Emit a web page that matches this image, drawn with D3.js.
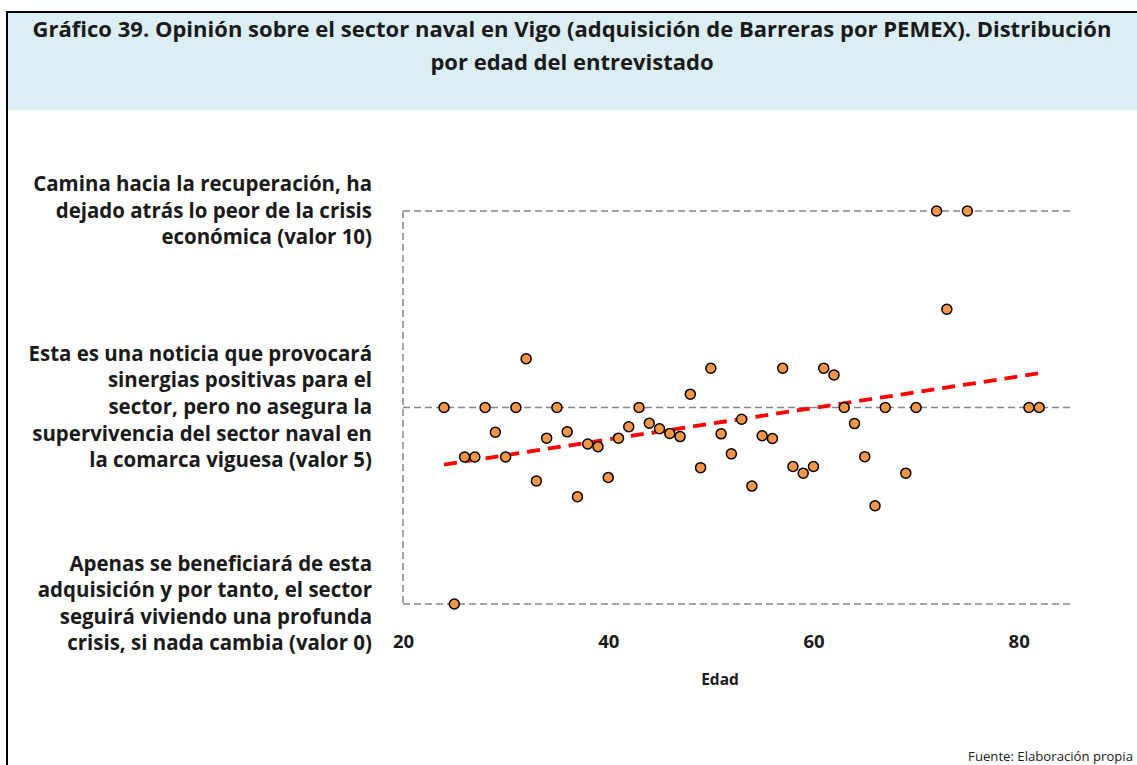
<!DOCTYPE html>
<html>
<head>
<meta charset="utf-8">
<script src="https://cdn.jsdelivr.net/npm/d3@7"></script>
<style>
  html, body { margin: 0; padding: 0; background: #fff; }
  svg { display: block; font-family: "Open Sans", sans-serif; }
</style>
</head>
<body>
<svg id="chart" width="1137" height="765"></svg>
<script>
// Respondent age and opinion score (0-10)
const ages = [24, 25, 26, 27, 28, 29, 30, 31, 32, 33, 34, 35, 36, 37, 38, 39, 40, 41, 42, 43,
              44, 45, 46, 47, 48, 49, 50, 51, 52, 53, 54, 55, 56, 57, 58, 59, 60, 61, 62, 63,
              64, 65, 66, 67, 69, 70, 72, 73, 75, 81, 82];
const scores = [5, 0, 3.74, 3.74, 5, 4.37, 3.74, 5, 6.24, 3.13, 4.22, 5, 4.38, 2.73, 4.07, 4.0, 3.22, 4.22, 4.51, 5,
                4.6, 4.46, 4.34, 4.26, 5.34, 3.47, 6.0, 4.33, 3.82, 4.7, 3.0, 4.28, 4.21, 6.0, 3.5, 3.33, 3.5, 6.0, 5.83, 5,
                4.59, 3.75, 2.5, 5, 3.33, 5, 10, 7.5, 10, 5, 5];

const xTicks = [20, 40, 60, 80];
const yTicks = [0, 5, 10];
const yTickLabels = [
  ["Apenas se beneficiará de esta", "adquisición y por tanto, el sector", "seguirá viviendo una profunda", "crisis, si nada cambia (valor 0)"],
  ["Esta es una noticia que provocará", "sinergias positivas para el", "sector, pero no asegura la", "supervivencia del sector naval en", "la comarca viguesa (valor 5)"],
  ["Camina hacia la recuperación, ha", "dejado atrás lo peor de la crisis", "económica (valor 10)"]
];
const titleLines = [
  "Gráfico 39. Opinión sobre el sector naval en Vigo (adquisición de Barreras por PEMEX). Distribución",
  "por edad del entrevistado"
];
const xTitle = "Edad";
const sourceText = "Fuente: Elaboración propia";

const svg = d3.select("#chart");
const W = 1137, H = 765;
const ink = "#1a1a1a";

// Font size at which a text element's rendered width equals `target`
function fitWidth(sel, target, base) {
  sel.attr("font-size", base);
  const w = sel.node().getComputedTextLength();
  return base * target / w;
}

// Frame and title band
svg.append("rect").attr("x", 7).attr("y", 12).attr("width", W - 7).attr("height", 98)
  .attr("fill", "#DAEEF3");
svg.append("line").attr("x1", 7).attr("x2", W).attr("y1", 12).attr("y2", 12)
  .attr("stroke", "#000").attr("stroke-width", 2);
svg.append("line").attr("x1", 7).attr("x2", 7).attr("y1", 11).attr("y2", H)
  .attr("stroke", "#000").attr("stroke-width", 2);

const titles = svg.append("g").selectAll("text").data(titleLines).join("text")
  .attr("x", 572).attr("y", (d, i) => 37 + i * 33)
  .attr("text-anchor", "middle")
  .attr("font-weight", "bold").attr("fill", ink)
  .text(d => d);
const titleSize = fitWidth(titles.filter((d, i) => i === 0), 1080, 20);
titles.attr("font-size", titleSize);

// Scales
const x = d3.scaleLinear().domain([20, 85]).range([403, 1070]);
const y = d3.scaleLinear().domain([0, 10]).range([604, 211]);

const dash = "7,4";
const gridColor = "#878787";

// Category labels on the left axis
const yAxis = d3.axisLeft(y).tickValues(yTicks).tickSize(0).tickPadding(31).tickFormat(() => "");
const gy = svg.append("g").attr("transform", `translate(${x(20)},0)`).call(yAxis);
gy.select(".domain").remove();

// Horizontal dashed gridlines
svg.append("g").selectAll("line").data(yTicks).join("line")
  .attr("x1", x(20)).attr("x2", x(85))
  .attr("y1", d => y(d)).attr("y2", d => y(d))
  .attr("stroke", gridColor).attr("stroke-width", 1.5).attr("stroke-dasharray", dash);

// Left axis line
svg.append("line")
  .attr("x1", x(20)).attr("x2", x(20))
  .attr("y1", y(10)).attr("y2", y(0))
  .attr("stroke", gridColor).attr("stroke-width", 1.5).attr("stroke-dasharray", dash);

// Label size: widest line spans the space left of the axis
const probe = svg.append("text").attr("font-weight", "bold")
  .text("supervivencia del sector naval en");
const labelSize = fitWidth(probe, 340, 17);
probe.remove();

const lineH = 26.6;
gy.selectAll(".tick text").each(function(d) {
  const lines = yTickLabels[yTicks.indexOf(d)];
  const t = d3.select(this)
    .attr("fill", ink).attr("font-size", labelSize).attr("font-weight", "bold")
    .attr("font-family", "'Open Sans', sans-serif")
    .attr("text-anchor", "end").attr("dy", null);
  const off = -(lines.length - 1) / 2 * lineH;
  t.selectAll("tspan").data(lines).join("tspan")
    .attr("x", -31)
    .attr("y", (l, i) => off + i * lineH + 6)
    .text(l => l);
});

// X axis tick labels
const xAxis = d3.axisBottom(x).tickValues(xTicks).tickSize(0).tickPadding(31).tickFormat(d3.format("d"));
const gx = svg.append("g").attr("transform", `translate(0,${y(0)})`).call(xAxis);
gx.select(".domain").remove();
gx.selectAll(".tick text")
  .attr("font-size", 18.5).attr("font-weight", "bold").attr("fill", ink)
  .attr("font-family", "'Open Sans', sans-serif");

svg.append("text").attr("x", 720).attr("y", 685)
  .attr("text-anchor", "middle").attr("font-weight", "bold").attr("font-size", 15.5)
  .attr("fill", ink).text(xTitle);

// Linear trend (least squares)
const n = ages.length;
const mx = d3.mean(ages), my = d3.mean(scores);
let sxy = 0, sxx = 0;
for (let i = 0; i < n; i++) {
  sxy += (ages[i] - mx) * (scores[i] - my);
  sxx += (ages[i] - mx) * (ages[i] - mx);
}
const slope = sxy / sxx, intercept = my - slope * mx;
const trend = d3.extent(ages).map(a => [a, intercept + slope * a]);

svg.append("path")
  .datum(trend)
  .attr("d", d3.line().x(d => x(d[0])).y(d => y(d[1])))
  .attr("fill", "none").attr("stroke", "#FF0000").attr("stroke-width", 3.8)
  .attr("stroke-dasharray", "13,8");

// Points
const pts = ages.map((a, i) => ({ age: a, score: scores[i] }));
svg.append("g").selectAll("circle").data(pts).join("circle")
  .attr("cx", d => x(d.age)).attr("cy", d => y(d.score))
  .attr("r", 5)
  .attr("fill", "#F79646").attr("stroke", "#000").attr("stroke-width", 1.5);

// Source
const src = svg.append("text").attr("x", 1133).attr("y", 761)
  .attr("text-anchor", "end").attr("fill", ink)
  .text(sourceText);
src.attr("font-size", fitWidth(src, 165, 14));
</script>
</body>
</html>
